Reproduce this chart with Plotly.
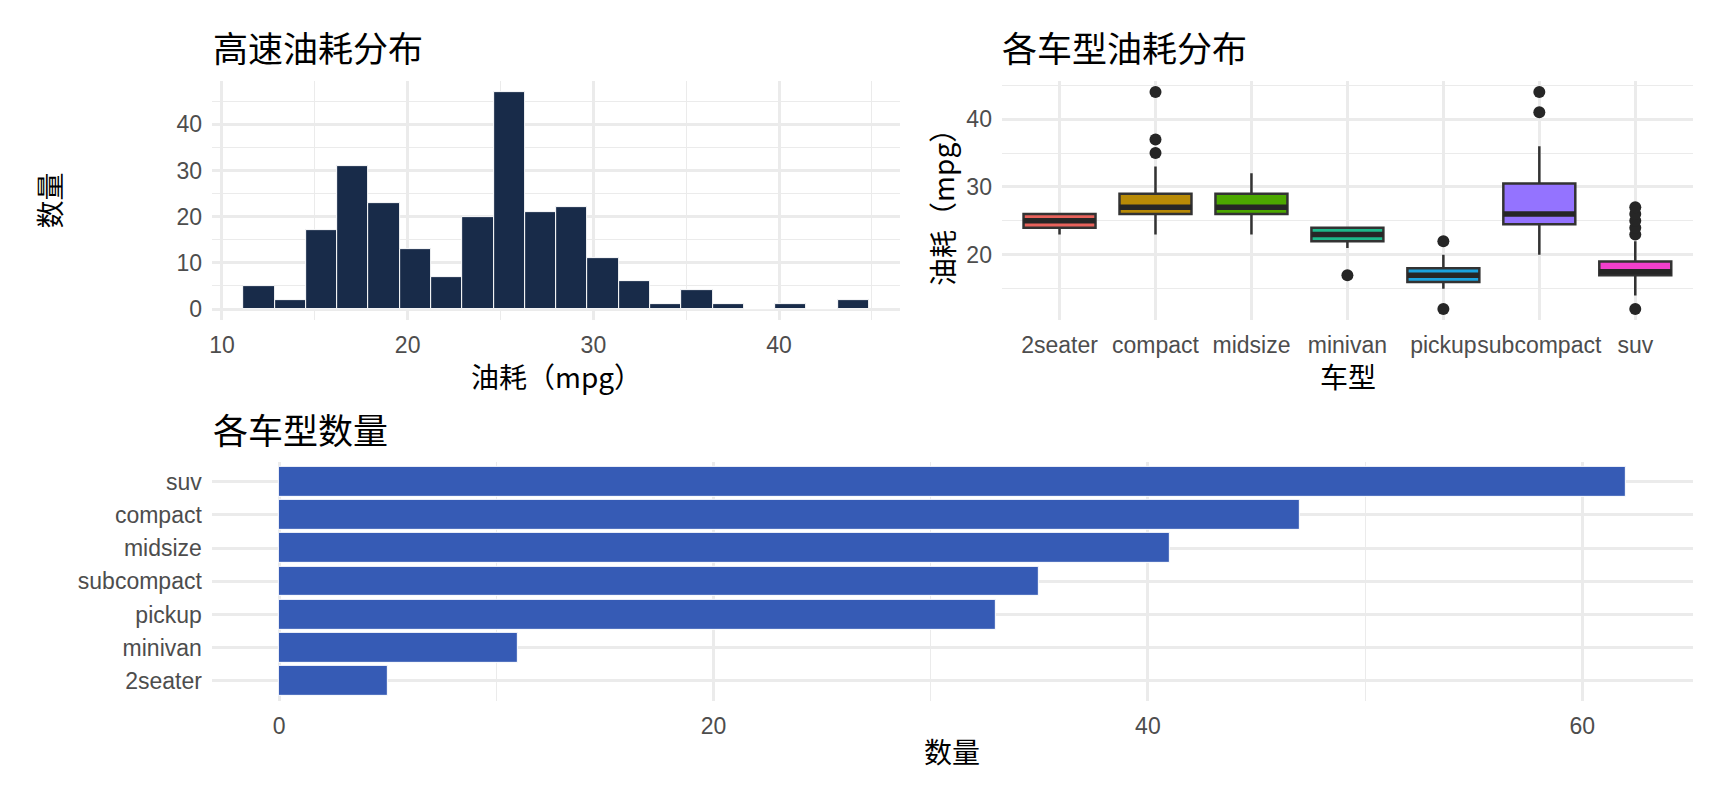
import plotly.graph_objects as go

# ggplot2 mpg 数据
hwy_min, hwy_max, n_bins = 12, 44, 20
hist_counts = [5, 2, 17, 31, 23, 13, 7, 20, 47, 21, 22, 11, 6, 1, 4, 1, 0, 1, 0, 2]

classes = ["2seater", "compact", "midsize", "minivan", "pickup", "subcompact", "suv"]
box_q1 = [24, 26, 26, 22, 16, 24.5, 17]
box_median = [25, 27, 27, 23, 17, 26, 17.5]
box_q3 = [26, 29, 29, 24, 18, 30.5, 19]
box_low = [23, 23, 23, 21, 15, 20, 14]
box_high = [26, 33, 32, 24, 20, 36, 22]
box_outliers = [[], [35, 37, 44], [], [17], [12, 22], [41, 44], [12, 23, 24, 25, 26, 27]]
box_colors = ["#E8625B", "#B88A06", "#4CA800", "#1DB98A", "#1BA3DF", "#9473FF", "#F23FCB"]

bar_classes = ["2seater", "minivan", "pickup", "subcompact", "midsize", "compact", "suv"]
bar_counts = [5, 11, 33, 35, 41, 47, 62]

# 页面 body 有 8px 边距，图形尺寸相应缩小
PAGE_W, PAGE_H, OFF = 1728, 806, 8
W, H = PAGE_W - 2 * OFF, PAGE_H - 2 * OFF


def fx(px):
    return (px - OFF) / W


def fy(py):
    return 1 - (py - OFF) / H


TICK_FONT = dict(family="Liberation Sans, Arial, sans-serif", size=23, color="#4D4D4D")
CJK = "Noto Sans CJK SC, Liberation Sans, sans-serif"
GRID = "#EBEBEB"

fig = go.Figure()

# 直方图
bw = (hwy_max - hwy_min) / (n_bins - 1)
centers = [hwy_min + i * bw for i in range(n_bins)]
fig.add_trace(go.Bar(
    x=centers, y=hist_counts, width=bw,
    marker=dict(color="#182B49", line=dict(color="white", width=1)),
    xaxis="x", yaxis="y", showlegend=False,
))

# 箱线图
bw_box = 0.75
for i, c in enumerate(classes):
    fig.add_trace(go.Box(
        x=[i], q1=[box_q1[i]], median=[box_median[i]], q3=[box_q3[i]],
        lowerfence=[box_low[i]], upperfence=[box_high[i]],
        width=bw_box, whiskerwidth=0, boxpoints=False,
        fillcolor=box_colors[i], line=dict(color="#333333", width=2.5),
        xaxis="x2", yaxis="y2", showlegend=False, name=c,
    ))
    fig.add_trace(go.Scatter(
        x=[i - bw_box / 2, i + bw_box / 2], y=[box_median[i]] * 2,
        mode="lines", line=dict(color="#262626", width=5.5),
        xaxis="x2", yaxis="y2", showlegend=False, hoverinfo="skip",
    ))
    if box_outliers[i]:
        fig.add_trace(go.Scatter(
            x=[i] * len(box_outliers[i]), y=box_outliers[i], mode="markers",
            marker=dict(color="#262626", size=12),
            xaxis="x2", yaxis="y2", showlegend=False,
        ))

# 条形图
fig.add_trace(go.Bar(
    x=bar_counts, y=bar_classes, orientation="h", width=0.9,
    marker=dict(color="#365BB5", line=dict(color="white", width=1)),
    xaxis="x3", yaxis="y3", showlegend=False,
))

axis_common = dict(
    showline=False, zeroline=False, ticks="", tickfont=TICK_FONT, tickangle=0,
    showgrid=True, gridcolor=GRID, gridwidth=2.5, ticklabelstandoff=9,
)

lo_edge = hwy_min - bw / 2
hi_edge = hwy_max + bw / 2
pad = 0.05 * (hi_edge - lo_edge)
ymax = max(hist_counts)

fig.update_layout(
    width=W, height=H,
    margin=dict(l=0, r=0, t=0, b=0),
    plot_bgcolor="white", paper_bgcolor="white",
    boxmode="overlay", bargap=0,
    xaxis=dict(axis_common, domain=[fx(209.5), fx(898.9)], anchor="y",
               range=[lo_edge - pad, hi_edge + pad], tickvals=[10, 20, 30, 40],
               minor=dict(tickvals=[15, 25, 35, 45], showgrid=True, gridcolor=GRID, gridwidth=1.2)),
    yaxis=dict(axis_common, domain=[fy(320.7), fy(81.3)], anchor="x",
               range=[-0.05 * ymax, 1.05 * ymax], tickvals=[0, 10, 20, 30, 40],
               minor=dict(tickvals=[5, 15, 25, 35, 45], showgrid=True, gridcolor=GRID, gridwidth=1.2)),
    xaxis2=dict(axis_common, domain=[fx(1000.7), fx(1692.8)], anchor="y2",
                range=[-0.6, len(classes) - 0.4], tickvals=list(range(len(classes))),
                ticktext=classes),
    yaxis2=dict(axis_common, domain=[fy(320.7), fy(81.3)], anchor="x2",
                range=[10.4, 45.6], tickvals=[20, 30, 40],
                minor=dict(tickvals=[15, 25, 35, 45], showgrid=True, gridcolor=GRID, gridwidth=1.2)),
    xaxis3=dict(axis_common, domain=[fx(209.2), fx(1693)], anchor="y3",
                range=[-0.05 * max(bar_counts), 1.05 * max(bar_counts)], tickvals=[0, 20, 40, 60],
                minor=dict(tickvals=[10, 30, 50], showgrid=True, gridcolor=GRID, gridwidth=1.2)),
    yaxis3=dict(axis_common, domain=[fy(702.5), fy(463)], anchor="x3",
                type="category", categoryorder="array", categoryarray=bar_classes,
                range=[-0.6, len(bar_classes) - 0.4]),
)


def note(text, x, y, size, angle=0, xanchor="center"):
    fig.add_annotation(text=text, x=fx(x), y=fy(y), xref="paper", yref="paper",
                       showarrow=False, xanchor=xanchor, yanchor="middle",
                       textangle=angle, font=dict(family=CJK, size=size, color="black"))


note("高速油耗分布", 208, 47, 35, xanchor="left")
note("各车型油耗分布", 999, 47, 35, xanchor="left")
note("各车型数量", 208, 430, 35, xanchor="left")
note("数量", 46, 201, 28, angle=-90)
note("油耗（mpg）", 554, 377, 28)
note("油耗（mpg）", 940, 201, 28, angle=-90)
note("车型", 1347, 377, 28)
note("数量", 951, 753, 28)

fig.write_html("out.html")
